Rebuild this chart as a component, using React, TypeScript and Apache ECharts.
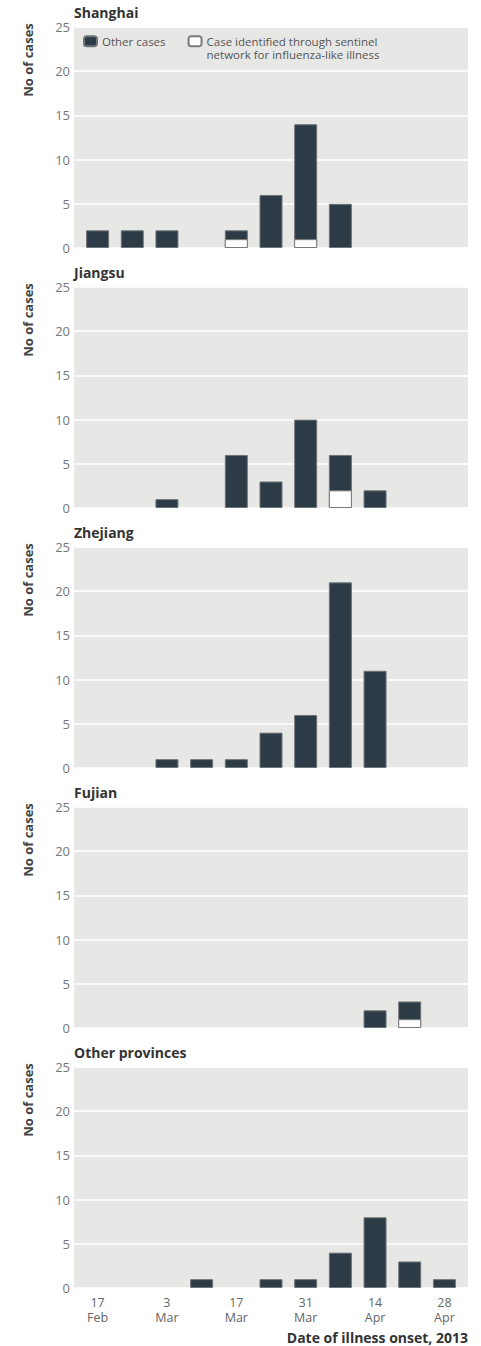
import React, { useEffect, useRef } from "react";
import * as echarts from "echarts";

// Weeks (bar centres): 17 Feb, 24 Feb, 3 Mar, ..., 28 Apr 2013
const weeks = ["17 Feb", "24 Feb", "3 Mar", "10 Mar", "17 Mar", "24 Mar", "31 Mar", "7 Apr", "14 Apr", "21 Apr", "28 Apr"];
const tickWeekIdx = [0, 2, 4, 6, 8, 10];
const tickLabels = ["17\nFeb", "3\nMar", "17\nMar", "31\nMar", "14\nApr", "28\nApr"];

const provinces = ["Shanghai", "Jiangsu", "Zhejiang", "Fujian", "Other provinces"];

// Total cases per week, and the part identified through the sentinel network
const shanghaiTotal = [2, 2, 2, 0, 2, 6, 14, 5, 0, 0, 0];
const shanghaiSentinel = [0, 0, 0, 0, 1, 0, 1, 0, 0, 0, 0];
const jiangsuTotal = [0, 0, 1, 0, 6, 3, 10, 6, 2, 0, 0];
const jiangsuSentinel = [0, 0, 0, 0, 0, 0, 0, 2, 0, 0, 0];
const zhejiangTotal = [0, 0, 1, 1, 1, 4, 6, 21, 11, 0, 0];
const zhejiangSentinel = [0, 0, 0, 0, 0, 0, 0, 0, 0, 0, 0];
const fujianTotal = [0, 0, 0, 0, 0, 0, 0, 0, 2, 3, 0];
const fujianSentinel = [0, 0, 0, 0, 0, 0, 0, 0, 0, 1, 0];
const otherProvTotal = [0, 0, 0, 1, 0, 1, 1, 4, 8, 3, 1];
const otherProvSentinel = [0, 0, 0, 0, 0, 0, 0, 0, 0, 0, 0];

const totalSeries = [shanghaiTotal, jiangsuTotal, zhejiangTotal, fujianTotal, otherProvTotal];
const sentinelSeries = [shanghaiSentinel, jiangsuSentinel, zhejiangSentinel, fujianSentinel, otherProvSentinel];

const OTHER_NAME = "Other cases";
const SENT_NAME = "Case identified through sentinel network for influenza-like illness";
const SENT_LABEL = "\nCase identified through sentinel\nnetwork for influenza-like illness";
const Y_TITLE = "No of cases";
const X_TITLE = "Date of illness onset, 2013";

const FONT = "'Open Sans', 'Noto Sans', sans-serif";
const DARK = "#2c3b45";

export default function App() {
  const ref = useRef<HTMLDivElement>(null);

  useEffect(() => {
    if (!ref.current) return;
    const chart = echarts.init(ref.current, undefined, { renderer: "svg" });

    const PANEL_STEP = 260;
    const TOP0 = 27;
    const H = 221;
    const LEFT = 74;
    const W = 394;

    const grids: any[] = [];
    const xAxes: any[] = [];
    const yAxes: any[] = [];
    const series: any[] = [];
    const graphics: any[] = [];

    provinces.forEach((p, i) => {
      const top = TOP0 + PANEL_STEP * i;
      const last = i === provinces.length - 1;
      grids.push({
        left: LEFT,
        top,
        width: W,
        height: H,
        show: true,
        backgroundColor: "#e7e7e6",
        borderWidth: 0,
      });
      xAxes.push({
        type: "value",
        gridIndex: i,
        min: -0.68,
        max: 10.68,
        splitLine: { show: false },
        axisLine: { show: false },
        axisTick: { show: false },
        axisLabel: {
          show: last,
          customValues: tickWeekIdx,
          formatter: (v: number) => {
            const k = tickWeekIdx.indexOf(Math.round(v));
            return k >= 0 ? tickLabels[k] : "";
          },
          color: "#666",
          fontFamily: FONT,
          fontSize: 12.5,
          lineHeight: 15,
          margin: 7,
        },
      });
      yAxes.push({
        type: "value",
        gridIndex: i,
        min: 0,
        max: 25,
        interval: 5,
        axisLine: { show: false },
        axisTick: { show: false },
        splitLine: { show: true, lineStyle: { color: "#ffffff", width: 1.5 } },
        axisLabel: {
          color: "#777",
          fontFamily: FONT,
          fontSize: 13,
          margin: 4,
        },
      });
      // Total cases (dark), with the sentinel-identified part drawn over its base
      series.push({
        type: "bar",
        name: OTHER_NAME,
        xAxisIndex: i,
        yAxisIndex: i,
        barWidth: 23,
        barGap: "-100%",
        itemStyle: { color: DARK, borderColor: "#6f7478", borderWidth: 1 },
        data: totalSeries[i].map((v, k) => [k, v > 0 ? v : null]),
      });
      series.push({
        type: "bar",
        name: SENT_NAME,
        xAxisIndex: i,
        yAxisIndex: i,
        barWidth: 23,
        barGap: "-100%",
        z: 3,
        itemStyle: { color: "#ffffff", borderColor: "#7a7a7a", borderWidth: 1 },
        data: sentinelSeries[i].map((v, k) => [k, v > 0 ? v : null]),
      });
      graphics.push({
        type: "text",
        left: LEFT,
        top: top - 22,
        style: {
          text: p,
          font: `bold 14px ${FONT}`,
          fill: "#333",
        },
      });
      graphics.push({
        type: "text",
        x: 28,
        y: top + 33,
        rotation: Math.PI / 2,
        style: {
          text: Y_TITLE,
          font: `bold 13px ${FONT}`,
          fill: "#444",
          align: "center",
          verticalAlign: "middle",
        },
      });
    });

    graphics.push({
      type: "text",
      right: 13,
      top: 1330,
      style: {
        text: X_TITLE,
        font: `bold 14px ${FONT}`,
        fill: "#333",
      },
    });

    chart.setOption({
      animation: false,
      grid: grids,
      xAxis: xAxes,
      yAxis: yAxes,
      series,
      graphic: graphics,
      legend: {
        left: 83,
        top: 21,
        padding: 0,
        itemWidth: 13,
        itemHeight: 10,
        itemGap: 22,
        data: [{ name: OTHER_NAME }, { name: SENT_NAME }],
        formatter: (name: string) => (name === SENT_NAME ? SENT_LABEL : name),
        textStyle: { color: "#555", fontFamily: FONT, fontSize: 11.5, lineHeight: 13.5 },
      },
    });

    return () => chart.dispose();
  }, []);

  return (
    <div
      ref={ref}
      style={{ position: "absolute", left: 0, top: 0, width: 481, height: 1346 }}
    />
  );
}
